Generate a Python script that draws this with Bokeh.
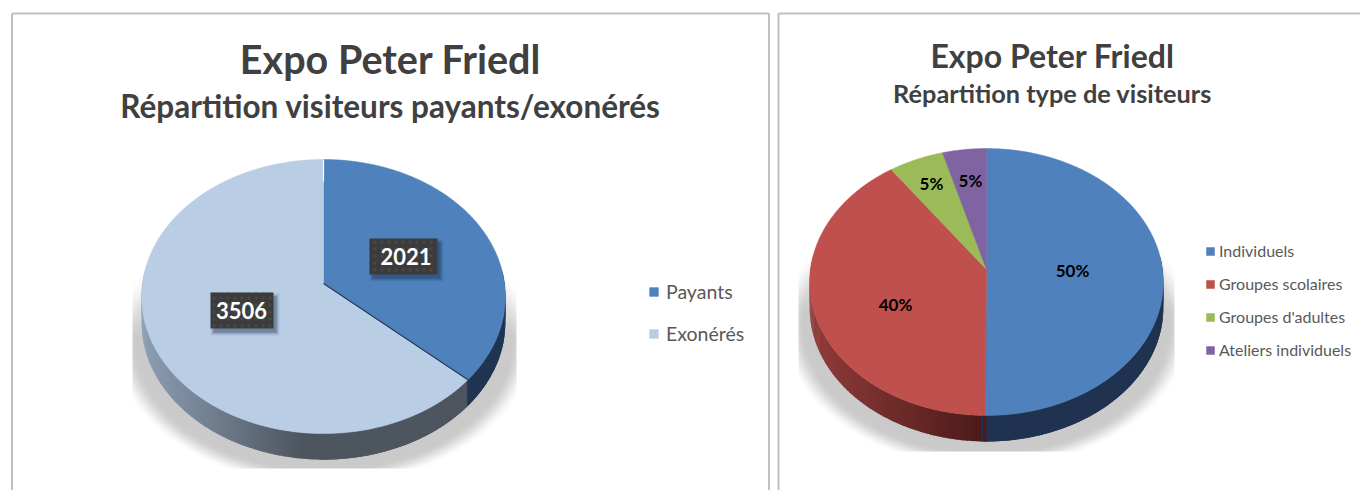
import numpy as np
from bokeh.embed import file_html
from bokeh.layouts import row
from bokeh.models import Legend, LegendItem, Range1d
from bokeh.plotting import figure
from bokeh.resources import INLINE
from bokeh.core.properties import value

# ---- data ----
title = "Expo Peter Friedl"
left_subtitle = "Répartition visiteurs payants/exonérés"
left_categories = ["Payants", "Exonérés"]
left_values = [2021, 3506]
left_labels = ["2021", "3506"]
left_colors = ["#4f81bd", "#b9cde5"]

right_subtitle = "Répartition type de visiteurs"
right_categories = ["Individuels", "Groupes scolaires", "Groupes d'adultes", "Ateliers individuels"]
right_values = [50.1, 40.0, 5.5, 4.4]
right_labels = ["50%", "40%", "5%", "5%"]
right_colors = ["#4f81bd", "#c0504d", "#9bbb59", "#8064a2"]

FONT = "Lato"
TOP, BOTTOM = 0, 490


def hex2rgb(h):
    return np.array([int(h[i:i + 2], 16) for i in (1, 3, 5)], dtype=float)


def rgb2hex(c):
    return "#%02x%02x%02x" % tuple(int(round(float(v))) for v in c)


class Geo:
    """A circle seen in perspective: 0 degrees is up, clockwise."""
    def __init__(self, ax, ay, a, b, k, depth):
        self.ax, self.ay, self.a, self.b, self.k, self.depth = ax, ay, a, b, k, depth

    def rim(self, deg):
        t = np.radians(np.asarray(deg, dtype=float))
        u, v = np.sin(t), np.cos(t)
        d = 1 + self.k * v
        return self.ax + self.a * u / d, self.ay - self.b * v / d


def draw_shadow(p, cx, cy, rx, ry, x0, x1, y0, y1, fade0, fade1):
    w, h = int(x1 - x0), int(y1 - y0)
    xs, ys = np.meshgrid(np.arange(w) + x0 + .5, np.arange(h) + y0 + .5)
    e = np.sqrt(((xs - cx) / rx) ** 2 + ((ys - cy) / ry) ** 2)
    a = np.clip((1 - e) / 0.12, 0, 1)
    a = a * a * (3 - 2 * a)
    f = np.clip((ys - fade0) / (fade1 - fade0), 0, 1)
    a = a * f * 0.25 * 255
    img = np.zeros((h, w), dtype=np.uint32)
    v = img.view(dtype=np.uint8).reshape((h, w, 4))
    v[..., 0] = v[..., 1] = v[..., 2] = 40
    v[..., 3] = a.astype(np.uint8)
    p.image_rgba(image=[img], x=x0, y=y0, dw=w, dh=h)


def draw_pie(p, values, colors, geo, wall_styles, grad_x0, grad_x1):
    total = float(sum(values))
    edges = np.concatenate([[0.0], np.cumsum(values) / total * 360.0])
    # wall: each quad overlaps the next one so no seam shows
    xs, ys, cols = [], [], []
    phis = np.arange(84.0, 277.0, 1.0)
    for d0 in phis:
        mid = d0 + 0.5
        i = int(np.searchsorted(edges, mid) - 1)
        i = max(0, min(i, len(values) - 1))
        x0, y0 = geo.rim(d0)
        end = d0 + 2.5 if mid < 180 else max(d0 - 1.5, edges[i])
        x1, y1 = geo.rim(end)
        style = wall_styles.get(i, ("#333333", "#333333"))
        t = np.clip((float(x0) - grad_x0) / (grad_x1 - grad_x0), 0, 1)
        c = hex2rgb(style[0]) * (1 - t) + hex2rgb(style[1]) * t
        xs.append([x0, x1, x1, x0])
        ys.append([y0, y1, y1 + geo.depth, y0 + geo.depth])
        cols.append(rgb2hex(c))
    # stack from the outer ends towards the bottom
    order = sorted(range(len(xs)), key=lambda j: -abs(phis[j] - 180))
    p.patches([xs[j] for j in order], [ys[j] for j in order],
              fill_color=[cols[j] for j in order], line_color=None)
    # top surface
    renderers = []
    for i, c in enumerate(colors):
        n = max(2, int((edges[i + 1] - edges[i]) * 2))
        rx, ry = geo.rim(np.linspace(edges[i], edges[i + 1], n))
        r = p.patch(np.r_[geo.ax, rx], np.r_[geo.ay, ry], fill_color=c, line_color=c, line_width=0.5)
        renderers.append(r)
    return renderers, edges


def new_fig(x0, x1):
    p = figure(width=int(x1 - x0), height=BOTTOM - TOP, x_range=Range1d(x0, x1),
               y_range=Range1d(BOTTOM, TOP), toolbar_location=None, output_backend="svg",
               min_border=0, outline_line_color=None, background_fill_color="white",
               border_fill_color="white")
    p.xaxis.visible = False
    p.yaxis.visible = False
    p.grid.visible = False
    return p


def frame(p, x0, x1, top):
    p.line([x0, x0], [BOTTOM, top], line_color="#bfbfbf", line_width=2)
    p.line([x0, x1], [top, top], line_color="#bfbfbf", line_width=2)


def texts(p, x, y, s, size, color, bold=True):
    p.text(x=[x], y=[y], text=[s], text_font=value(FONT), text_font_size=f"{size}px",
           text_font_style="bold" if bold else "normal", text_color=color,
           text_align="center", text_baseline="middle")


# ---------- left ----------
p1 = new_fig(0, 773)
frame(p1, 11.5, 768.5, 13)
p1.line([768.5, 768.5], [BOTTOM, 13], line_color="#bfbfbf", line_width=2)
texts(p1, 390, 58, title, 39.5, "#404040")
texts(p1, 390, 105, left_subtitle, 31.5, "#404040")
draw_shadow(p1, 323, 340, 212, 146, 132, 516, 262, 468, 265, 335)
geoL = Geo(323, 283, 181, 135.8, 0.095, 26)
rL, edgesL = draw_pie(p1, left_values, left_colors, geoL,
                      {0: ("#1f3552", "#1f3552"), 1: ("#8b9cb2", "#4d555f")}, 146, 300)
ex, ey = geoL.rim(edgesL[1])
p1.line([geoL.ax, float(ex)], [geoL.ay, float(ey)], line_color="#1f3552", line_width=1.2)
ex, ey = geoL.rim(0.0)
p1.line([float(ex), float(ex)], [float(ey), float(ey) + 22], line_color="#ffffff", line_width=1.2)

label_boxes = [(369, 437, 238, 274), (210, 273, 292, 328)]
label_text_xy = [(405.5, 255.5), (241, 309.5)]
for s, (x0, x1, y0, y1), (tx, ty) in zip(left_labels, label_boxes, label_text_xy):
    cx, cy, w, h = (x0 + x1) / 2, (y0 + y1) / 2, x1 - x0, y1 - y0
    for grow, alpha in [(6, 0.06), (4, 0.09), (2, 0.14), (0, 0.2)]:
        p1.rect(x=[cx + 3], y=[cy + 4], width=w + grow, height=h + grow,
                fill_color="#10243c", fill_alpha=alpha, line_color=None)
    p1.rect(x=[cx], y=[cy], width=w, height=h, fill_color="#3b3b3b", line_color=None,
            hatch_pattern="dot", hatch_color="#474747", hatch_scale=7, hatch_weight=1)
    texts(p1, tx, ty, s, 22, "#ffffff")

leg1 = Legend(items=[LegendItem(label=c, renderers=[r]) for c, r in zip(left_categories, rL)],
              location=(648, 145), orientation="vertical", border_line_color=None,
              background_fill_alpha=0, padding=0, margin=0, glyph_width=11, glyph_height=11,
              label_standoff=7, spacing=19, label_text_font=FONT, label_text_font_size="19.5px",
              label_text_color="#595959", label_height=22)
p1.add_layout(leg1, "center")

# ---------- right ----------
p2 = new_fig(773, 1360)
frame(p2, 778, 1360, 13)
texts(p2, 1052, 55, title, 32, "#404040")
texts(p2, 1052, 92, right_subtitle, 25.3, "#404040")
draw_shadow(p2, 986, 323, 206, 146, 798, 1174, 232, 451, 235, 310)
geoR = Geo(986, 269, 176, 132.3, 0.0936, 26)
rR, edgesR = draw_pie(p2, right_values, right_colors, geoR,
                      {0: ("#1f3350", "#1f3350"), 1: ("#8f3b39", "#4a1a18")}, 812, 985)
right_label_xy = [(1072, 270), (895, 304), (931, 183), (970, 180)]
for s, (x, y) in zip(right_labels, right_label_xy):
    texts(p2, x, y, s, 17, "#000000")

leg2 = Legend(items=[LegendItem(label=c, renderers=[r]) for c, r in zip(right_categories, rR)],
              location=(432, 131), orientation="vertical", border_line_color=None,
              background_fill_alpha=0, padding=0, margin=0, glyph_width=10, glyph_height=10,
              label_standoff=4, spacing=14, label_text_font=FONT, label_text_font_size="16px",
              label_text_color="#595959", label_height=19)
p2.add_layout(leg2, "center")

layout = row(p1, p2, spacing=0)
open("out.html", "w").write(file_html(layout, INLINE))
